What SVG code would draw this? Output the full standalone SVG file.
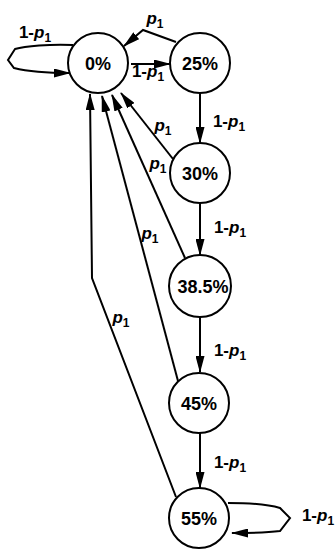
<svg xmlns="http://www.w3.org/2000/svg" width="336" height="549" viewBox="0 0 336 549">
  <style>
    .node circle { fill: #fff; stroke: #000; stroke-width: 2; }
    .node text { font-family: "Liberation Sans", Arial, sans-serif; font-size: 18px; font-weight: bold; text-anchor: middle; fill: #000; }
    .edge { fill: none; stroke: #000; stroke-width: 2; marker-end: url(#head); }
    .lbl { font-family: "Liberation Sans", Arial, sans-serif; font-size: 17px; font-weight: bold; text-anchor: middle; fill: #000; }
    .lbl .v { font-style: italic; }
    .lbl .s { font-size: 12px; }
  </style>
  <defs>
    <marker id="head" markerUnits="userSpaceOnUse" markerWidth="17" markerHeight="9" refX="16" refY="4.5" orient="auto">
      <path d="M0,0 L17,4.5 L0,9 z" fill="#000"/>
    </marker>
  </defs>

  <g id="connectors">
    <!-- self loop on 0% -->
    <path class="edge" d="M73,45 C50,44 25,46 15,49 L8,60 L14,68 C30,72 50,73 70,73"/>
    <!-- 0% -> 25% -->
    <path class="edge" d="M131,64 L170,64"/>
    <!-- 25% -> 0% -->
    <path class="edge" d="M176,42 L143,30 L124,46"/>
    <!-- chain down the right column -->
    <path class="edge" d="M200,93 L200,143"/>
    <path class="edge" d="M200,203 L200,255"/>
    <path class="edge" d="M200,317 L200,372"/>
    <path class="edge" d="M200,433 L200,488"/>
    <!-- returns to 0% -->
    <path class="edge" d="M173,159 L121,93"/>
    <path class="edge" d="M185,258 L112,95"/>
    <path class="edge" d="M178,381 L102,96"/>
    <path class="edge" d="M176,497 L92,278 L90,94"/>
    <!-- self loop on 55% -->
    <path class="edge" d="M228,503 C250,503 270,505 280,508 L290,518 L280,531 C265,533 250,533 232,533"/>

    <text class="lbl" x="35" y="38">1-<tspan class="v">p</tspan><tspan class="s" dy="4">1</tspan></text>
    <text class="lbl" x="155" y="24"><tspan class="v">p</tspan><tspan class="s" dy="4">1</tspan></text>
    <text class="lbl" x="148" y="77">1-<tspan class="v">p</tspan><tspan class="s" dy="4">1</tspan></text>
    <text class="lbl" x="229" y="127">1-<tspan class="v">p</tspan><tspan class="s" dy="4">1</tspan></text>
    <text class="lbl" x="163" y="131"><tspan class="v">p</tspan><tspan class="s" dy="4">1</tspan></text>
    <text class="lbl" x="158" y="169"><tspan class="v">p</tspan><tspan class="s" dy="4">1</tspan></text>
    <text class="lbl" x="230" y="233">1-<tspan class="v">p</tspan><tspan class="s" dy="4">1</tspan></text>
    <text class="lbl" x="150" y="239"><tspan class="v">p</tspan><tspan class="s" dy="4">1</tspan></text>
    <text class="lbl" x="121" y="323"><tspan class="v">p</tspan><tspan class="s" dy="4">1</tspan></text>
    <text class="lbl" x="230" y="356">1-<tspan class="v">p</tspan><tspan class="s" dy="4">1</tspan></text>
    <text class="lbl" x="230" y="468">1-<tspan class="v">p</tspan><tspan class="s" dy="4">1</tspan></text>
    <text class="lbl" x="318" y="521">1-<tspan class="v">p</tspan><tspan class="s" dy="4">1</tspan></text>
  </g>

  <g id="n0" class="node"><circle cx="98" cy="63" r="30"/><text x="98" y="70">0%</text></g>
  <g id="n25" class="node"><circle cx="200" cy="63" r="30"/><text x="200" y="70">25%</text></g>
  <g id="n30" class="node"><circle cx="200" cy="173" r="30"/><text x="200" y="180">30%</text></g>
  <g id="n385" class="node"><circle cx="200" cy="286" r="31"/><text x="203" y="293">38.5%</text></g>
  <g id="n45" class="node"><circle cx="199" cy="403" r="30"/><text x="199" y="410">45%</text></g>
  <g id="n55" class="node"><circle cx="199" cy="518" r="30"/><text x="199" y="525">55%</text></g>
</svg>
